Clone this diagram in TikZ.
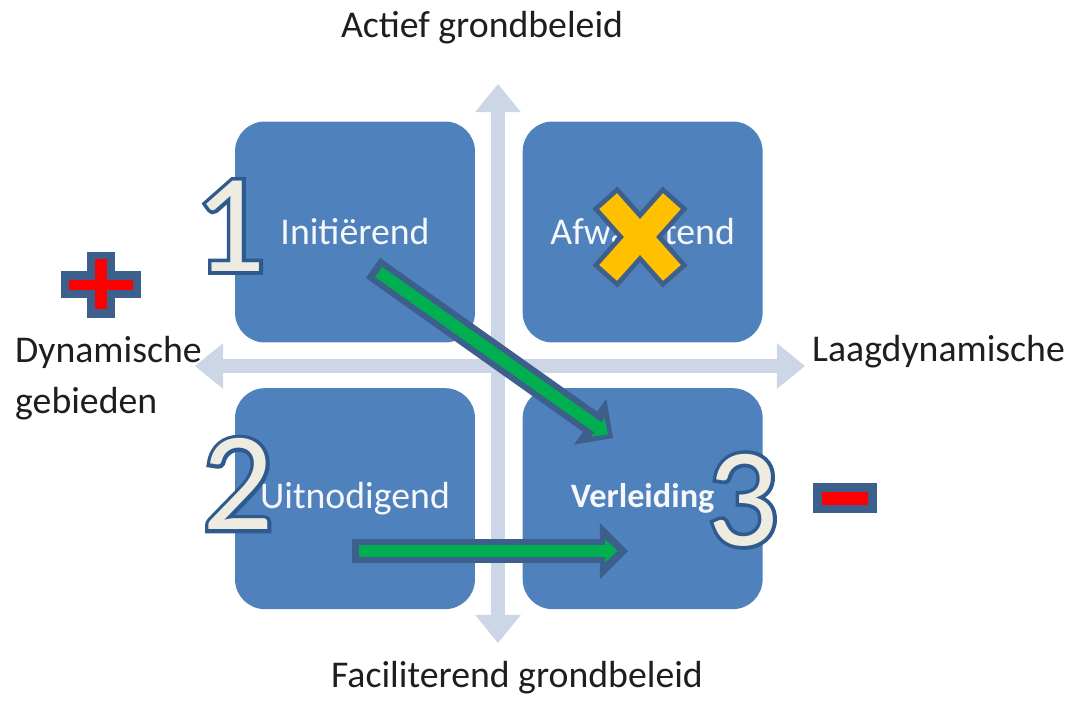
\documentclass[tikz,border=0pt]{standalone}
\usepackage{fontspec}
\setmainfont{Carlito}
\usetikzlibrary{arrows.meta, positioning}
\definecolor{tileblue}{HTML}{4F81BD}
\definecolor{axisgrey}{HTML}{CDD6E7}
\definecolor{rimblue}{HTML}{3D5F8C}
\definecolor{numrim}{HTML}{2F5A8E}
\definecolor{arrowgreen}{HTML}{00B050}
\definecolor{numcream}{HTML}{EEECE1}
\definecolor{signred}{HTML}{FF0000}
\definecolor{crossyellow}{HTML}{FFC000}
\definecolor{inktext}{HTML}{1E1E1E}
% thick stroked glyph, laid under the cream numeral
\newcommand{\rimtext}[1]{\special{pdf:literal direct 2 Tr 4.2 w}#1\special{pdf:literal direct 0 Tr}}

\begin{document}
\begin{tikzpicture}[
    x=0.02cm, y=-0.02cm,
    tile/.style={rectangle, rounded corners=17pt, fill=tileblue,
                 minimum width=4.8cm, minimum height=4.42cm, inner sep=0pt,
                 text=white!94!tileblue, font=\fontsize{21.5}{24}\selectfont},
    axis/.style={draw=axisgrey, line width=8pt,
                 {Triangle[width=26pt,length=16pt,line width=0pt]}-{Triangle[width=26pt,length=16pt,line width=0pt]}},
    rim/.style={draw=rimblue, line width=14pt,
                -{Triangle[width=32pt,length=16pt,line width=0pt]}},
    shaft/.style={draw=arrowgreen, line width=7pt,
                  -{Triangle[width=13pt,length=7pt,line width=0pt]}},
    crossrim/.style={draw=rimblue, line width=19pt, line cap=rect},
    crossfill/.style={draw=crossyellow, line width=13.5pt, line cap=rect},
    caption/.style={font=\fontsize{21.5}{29}\selectfont, text=inktext},
    numeral/.style={font=\fontsize{80}{80}\selectfont, inner sep=0pt, text=numcream},
    numback/.style={numeral, text=numrim}
]
\useasboundingbox (0,0) rectangle (1067,700);

% axes
\coordinate (vtop) at (498,84);
\coordinate (vbot) at (498,643);
\coordinate (hleft) at (195,366);
\coordinate (hright) at (805,366);
\draw[axis] (vbot) -- (vtop);
\draw[axis] (hright) -- (hleft);

% quadrants
\node[tile] (init) at (355,232) {Initiërend};
\node[tile, right=0.94cm of init] (wait) {Afwachtend};
\node[tile, below=0.9cm of init] (invite) {Uitnodigend};
\node[tile, right=0.94cm of invite, font=\fontsize{19.5}{22}\selectfont\bfseries] (lure) {Verleiding};

% numbers
\node[numback] (one-rim) at (230,226) {\rimtext{1}};
\node[numeral] (one) at (one-rim) {1};
\node[numback] (two-rim) at (238,484) {\rimtext{2}};
\node[numeral] (two) at (two-rim) {2};
\node[numback] (three-rim) at (743,500) {\rimtext{3}};
\node[numeral] (three) at (three-rim) {3};

% green arrows
\coordinate (d0) at (373,268);
\coordinate (d1) at (613,438);
\coordinate (h0) at (352,551);
\coordinate (h1) at (628,551);
\draw[rim] (d0) -- (d1);
\draw[shaft, shorten <=4pt, shorten >=3.5pt] (d0) -- (d1);
\draw[rim] (h0) -- (h1);
\draw[shaft, shorten <=4pt, shorten >=6pt] (h0) -- (h1);

% cross
\draw[crossrim] (616,210) -- (664,264) (664,210) -- (616,264);
\draw[crossfill] (616,210) -- (664,264) (664,210) -- (616,264);

% plus and minus
\fill[rimblue] (61,271) rectangle (141,298);
\fill[rimblue] (87,252) rectangle (115,318);
\fill[signred] (69,280) rectangle (133,290);
\fill[signred] (95,259) rectangle (107,309);
\fill[rimblue] (813,483) rectangle (877,513);
\fill[signred] (822,492) rectangle (868,505);

% captions
\node[caption] (active) at (482,28) {Actief grondbeleid};
\node[caption] (facil) at (517,678) {Faciliterend grondbeleid};
\node[caption, anchor=west, align=left] (dyn) at (9,378) {Dynamische\\gebieden};
\node[caption, anchor=west] (lowdyn) at (806,352) {Laagdynamische};
\end{tikzpicture}
\end{document}
